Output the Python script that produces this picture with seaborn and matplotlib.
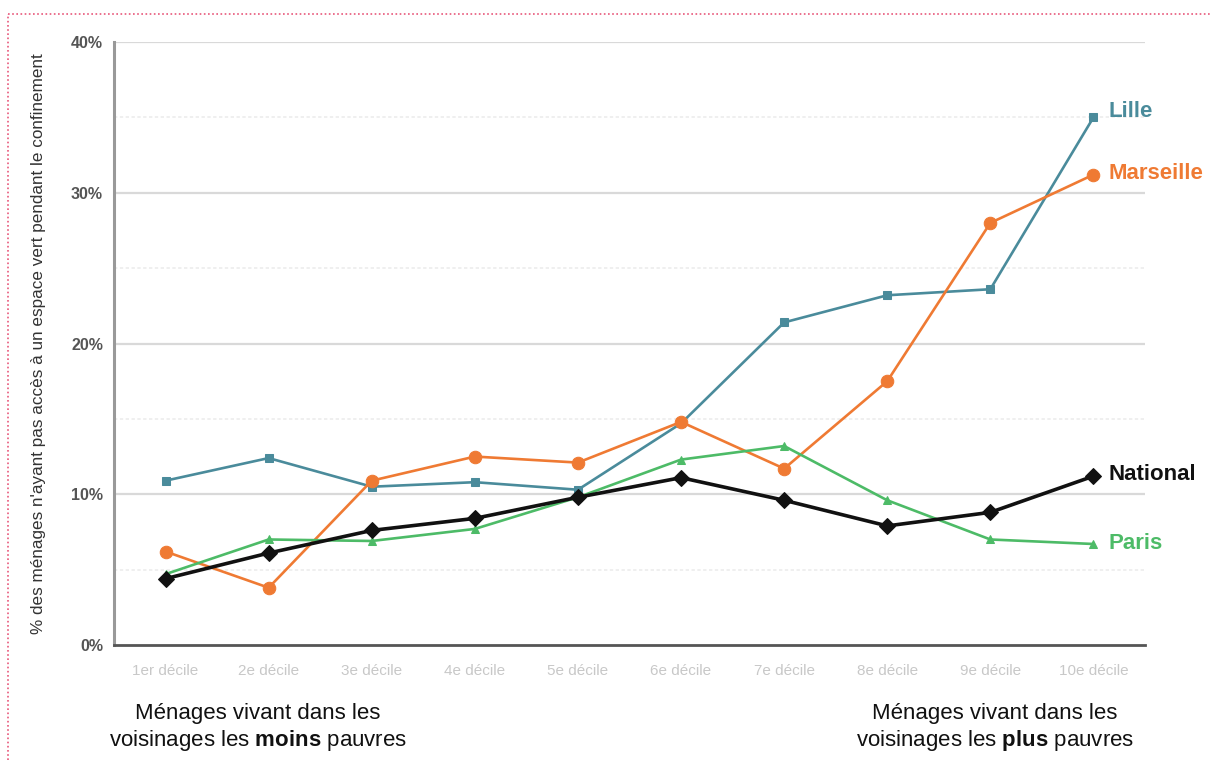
import matplotlib
matplotlib.use("Agg")
import matplotlib.pyplot as plt
import seaborn as sns
import pandas as pd
from matplotlib.lines import Line2D

deciles = ["1er décile", "2e décile", "3e décile", "4e décile", "5e décile",
           "6e décile", "7e décile", "8e décile", "9e décile", "10e décile"]
lille = [10.9, 12.4, 10.5, 10.8, 10.3, 14.7, 21.4, 23.2, 23.6, 35.0]
marseille = [6.2, 3.8, 10.9, 12.5, 12.1, 14.8, 11.7, 17.5, 28.0, 31.2]
paris = [4.7, 7.0, 6.9, 7.7, 9.8, 12.3, 13.2, 9.6, 7.0, 6.7]
national = [4.4, 6.1, 7.6, 8.4, 9.8, 11.1, 9.6, 7.9, 8.8, 11.2]
yticks = [0, 10, 20, 30, 40]
ytick_labels = ["0%", "10%", "20%", "30%", "40%"]
ylabel = "% des ménages n'ayant pas accès à un espace vert pendant le confinement"

sns.set_theme(style="white")
plt.rcParams["font.family"] = ["Liberation Sans", "DejaVu Sans"]
plt.rcParams["mathtext.fontset"] = "custom"
plt.rcParams["mathtext.rm"] = "Liberation Sans"
plt.rcParams["mathtext.bf"] = "Liberation Sans:bold"

fig = plt.figure(figsize=(12.12, 7.6), dpi=100)
ax = fig.add_axes([114/1212, 1-645/760, (1145-114)/1212, (645-42)/760])

# grid lines
for v in [10, 20, 30, 40]:
    ax.axhline(v, color="#d9d9d9", lw=1.6, zorder=0)
for v in [5, 15, 25, 35]:
    ax.axhline(v, color="#ececec", lw=1.2, ls=(0, (2, 1.5)), zorder=0)

series = [
    ("Lille", lille, "#4a8b9b", "s", 6, 1.9),
    ("Marseille", marseille, "#ef7a33", "o", 9, 1.9),
    ("Paris", paris, "#4dbb67", "^", 6, 1.9),
    ("National", national, "#111111", "D", 8, 2.6),
]
for name, vals, col, mk, ms, lw in series:
    df = pd.DataFrame({"x": list(range(len(deciles))), "y": vals})
    sns.lineplot(data=df, x="x", y="y", ax=ax, color=col, marker=mk,
                 markersize=ms, markeredgecolor=col, linewidth=lw, zorder=3)

ax.set_xlim(-0.5, 9.5)
ax.set_ylim(0, 40)
ax.set_xticks(range(len(deciles)))
ax.set_xticklabels(deciles, color="#c8c8c8", fontsize=11)
ax.set_yticks(yticks)
ax.set_yticklabels(ytick_labels, color="#555555", fontsize=11.5, fontweight="bold")
ax.tick_params(axis="x", direction="inout", length=10, width=1.2, color="#444444", pad=9)
ax.tick_params(axis="y", length=0, pad=8)
ax.set_xlabel("")
ax.set_ylabel(ylabel, fontsize=12.3, color="#333333", labelpad=18)

for s in ["top", "right"]:
    ax.spines[s].set_visible(False)
ax.spines["left"].set_color("#999999")
ax.spines["left"].set_linewidth(2.2)
ax.spines["bottom"].set_color("#555555")
ax.spines["bottom"].set_linewidth(2.0)

# end labels
label_y = {"Lille": 35.4, "Marseille": 31.3, "National": 11.3, "Paris": 6.7}
for name, vals, col, mk, ms, lw in series:
    ax.annotate(name, xy=(9, label_y[name]), xytext=(11, 0), textcoords="offset points",
                color=col, fontsize=16, fontweight="bold", va="center", ha="left",
                annotation_clip=False)

# bottom captions
fig.text(258/1212, 1-728/760, "Ménages vivant dans les\nvoisinages les $\\mathbf{moins}$ pauvres",
         ha="center", va="center", fontsize=16, color="#111111", linespacing=1.25)
fig.text(995/1212, 1-728/760, "Ménages vivant dans les\nvoisinages les $\\mathbf{plus}$ pauvres",
         ha="center", va="center", fontsize=16, color="#111111", linespacing=1.25)

# pink dotted frame (top and left)
fig.add_artist(Line2D([8/1212, 1], [1-14/760, 1-14/760], transform=fig.transFigure,
                      color="#e8577a", lw=1.2, ls=(0, (1, 1.5))))
fig.add_artist(Line2D([8/1212, 8/1212], [0, 1-14/760], transform=fig.transFigure,
                      color="#e8577a", lw=1.2, ls=(0, (1, 1.5))))

fig.savefig("out.png", dpi=100)
